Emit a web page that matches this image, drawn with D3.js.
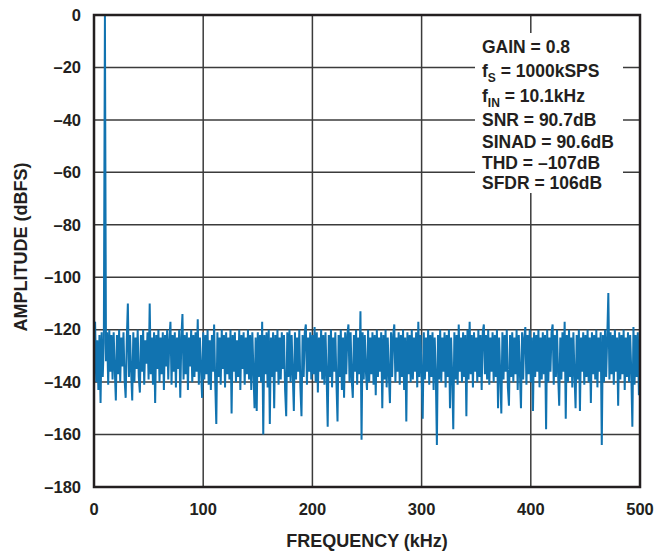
<!DOCTYPE html>
<html>

<head>
    <meta charset='utf-8' />
    <title>FFT plot</title>
    <script src="https://d3js.org/d3.v7.min.js"></script>
    <style>
        body { margin: 0; background: #fff; }
        text { font-family: "Liberation Sans", Arial, sans-serif; font-weight: bold; fill: #231f20; }
    </style>
</head>

<body>
    <div id="chart"></div>

    <script>
        // frequency axis (kHz) and amplitude axis (dBFS) ticks
        var freqTicks = [0, 100, 200, 300, 400, 500];
        var ampTicks = [0, -20, -40, -60, -80, -100, -120, -140, -160, -180];

        // spectrum, one bin per kHz from 0 to 500 kHz (fundamental near 10 kHz)
        var binStepKHz = 1;
        var amplitudeDb = [
            -118, -117, -140, -124, -143, -122, -148, -121, -138, -125, 0, -132, -121, -141, -120, -136, -122, -139, -121, -135,
            -147, -122, -137, -120, -140, -123, -134, -121, -139, -146, -124, -110, -138, -122, -136, -147, -121, -140, -123, -135,
            -120, -138, -144, -122, -136, -120, -141, -124, -133, -121, -139, -110, -137, -123, -141, -121, -148, -122, -135, -120,
            -140, -123, -137, -121, -143, -122, -134, -120, -139, -124, -117, -141, -122, -136, -121, -142, -123, -135, -120, -146,
            -123, -114, -139, -122, -137, -121, -143, -123, -134, -120, -140, -122, -138, -121, -136, -116, -141, -123, -135, -146,
            -121, -139, -122, -137, -120, -141, -124, -143, -122, -136, -118, -140, -156, -121, -138, -123, -141, -120, -135, -122,
            -142, -121, -137, -123, -139, -120, -152, -122, -136, -121, -140, -124, -138, -120, -143, -122, -135, -121, -141, -123,
            -137, -120, -139, -122, -143, -121, -136, -150, -123, -151, -121, -138, -122, -140, -117, -160, -122, -137, -121, -142,
            -120, -156, -123, -138, -121, -150, -122, -136, -120, -141, -123, -139, -121, -135, -122, -143, -153, -121, -138, -120,
            -140, -122, -137, -151, -121, -139, -123, -136, -120, -142, -153, -122, -138, -121, -118, -141, -123, -136, -121, -139,
            -122, -137, -119, -140, -121, -144, -123, -136, -120, -139, -122, -141, -121, -137, -157, -122, -138, -120, -142, -123,
            -136, -121, -140, -155, -122, -138, -120, -143, -123, -146, -121, -137, -122, -118, -140, -121, -139, -146, -122, -136,
            -120, -141, -123, -137, -113, -162, -121, -139, -122, -136, -143, -120, -140, -123, -137, -121, -141, -122, -145, -120,
            -138, -123, -136, -121, -150, -122, -139, -120, -142, -123, -137, -148, -121, -138, -122, -118, -140, -123, -136, -121,
            -141, -122, -138, -120, -143, -123, -155, -121, -137, -122, -140, -120, -139, -123, -136, -121, -142, -117, -138, -122,
            -137, -154, -121, -139, -123, -136, -120, -141, -122, -138, -121, -143, -123, -137, -164, -122, -139, -120, -140, -123,
            -136, -121, -142, -122, -138, -120, -150, -123, -137, -158, -121, -139, -122, -141, -118, -136, -123, -140, -121, -138,
            -122, -153, -120, -139, -117, -137, -122, -142, -121, -136, -123, -140, -120, -138, -122, -143, -121, -118, -137, -122,
            -139, -120, -141, -123, -136, -121, -140, -122, -138, -120, -150, -123, -137, -152, -121, -139, -122, -136, -120, -142,
            -149, -122, -138, -121, -140, -123, -137, -120, -143, -122, -136, -150, -121, -139, -123, -119, -141, -122, -137, -120,
            -140, -123, -151, -121, -138, -122, -136, -120, -142, -123, -139, -121, -137, -122, -158, -120, -140, -123, -136, -121,
            -118, -141, -122, -138, -120, -137, -149, -123, -139, -121, -136, -117, -154, -122, -140, -120, -138, -123, -142, -121,
            -137, -150, -122, -139, -120, -151, -123, -136, -121, -141, -122, -138, -120, -140, -123, -148, -121, -137, -122, -139,
            -120, -142, -123, -136, -121, -164, -122, -140, -120, -138, -123, -106, -139, -121, -137, -122, -141, -120, -136, -123,
            -149, -121, -139, -122, -137, -120, -143, -123, -138, -121, -140, -122, -136, -157, -119, -141, -122, -138, -121, -145,
            -123
        ];

        // test conditions shown in the box
        var notes = [
            { main: "GAIN = 0.8" },
            { main: "f", sub: "S", rest: " = 1000kSPS" },
            { main: "f", sub: "IN", rest: " = 10.1kHz" },
            { main: "SNR = 90.7dB" },
            { main: "SINAD = 90.6dB" },
            { main: "THD = \u2013107dB" },
            { main: "SFDR = 106dB" }
        ];

        var W = 666, H = 553;
        var margin = { top: 15, right: 26, bottom: 66, left: 94 },
            width = W - margin.left - margin.right,
            height = H - margin.top - margin.bottom;

        var svg = d3.select("#chart").append("svg")
            .attr("width", W)
            .attr("height", H);

        var g = svg.append("g")
            .attr("transform", "translate(" + margin.left + "," + margin.top + ")");

        var x = d3.scaleLinear().domain([0, 500]).range([0, width]);
        var y = d3.scaleLinear().domain([-180, 0]).range([height, 0]);

        var fmt = function (d) { return d < 0 ? "\u2013" + (-d) : String(d); };

        // grid
        g.append("g")
            .selectAll("line.vx")
            .data(freqTicks)
            .enter().append("line")
            .attr("x1", function (d) { return x(d); })
            .attr("x2", function (d) { return x(d); })
            .attr("y1", 0).attr("y2", height)
            .style("stroke", "#3b3b3b").style("stroke-width", 1.5);

        g.append("g")
            .selectAll("line.hy")
            .data(ampTicks)
            .enter().append("line")
            .attr("x1", 0).attr("x2", width)
            .attr("y1", function (d) { return y(d); })
            .attr("y2", function (d) { return y(d); })
            .style("stroke", "#3b3b3b").style("stroke-width", 1.5);

        // white box for the notes
        g.append("rect")
            .attr("x", 475 - margin.left)
            .attr("y", 33 - margin.top)
            .attr("width", 148)
            .attr("height", 160)
            .style("fill", "#fff");

        // spectrum line
        var line = d3.line()
            .x(function (d, i) { return x(i * binStepKHz); })
            .y(function (d) { return y(d); });

        g.append("path")
            .datum(amplitudeDb)
            .attr("d", line)
            .style("fill", "none")
            .style("stroke", "#1173b0")
            .style("stroke-width", 2)
            .style("stroke-linejoin", "miter");

        // frame
        g.append("rect")
            .attr("width", width).attr("height", height)
            .style("fill", "none")
            .style("stroke", "#231f20")
            .style("stroke-width", 2.5);

        // tick labels
        g.append("g")
            .selectAll("text")
            .data(ampTicks)
            .enter().append("text")
            .attr("x", -13)
            .attr("y", function (d) { return y(d); })
            .attr("dy", "0.35em")
            .attr("text-anchor", "end")
            .style("font-size", "16.5px")
            .text(fmt);

        g.append("g")
            .selectAll("text")
            .data(freqTicks)
            .enter().append("text")
            .attr("x", function (d) { return x(d); })
            .attr("y", height + 28)
            .attr("text-anchor", "middle")
            .style("font-size", "16.5px")
            .text(fmt);

        // axis titles
        svg.append("text")
            .attr("x", margin.left + width / 2)
            .attr("y", 547)
            .attr("text-anchor", "middle")
            .style("font-size", "18px")
            .text("FREQUENCY (kHz)");

        svg.append("text")
            .attr("transform", "translate(27," + (margin.top + height / 2 - 4) + ") rotate(-90)")
            .attr("text-anchor", "middle")
            .style("font-size", "18px")
            .text("AMPLITUDE (dBFS)");

        // notes
        var lineY = [53, 77, 102, 126, 148, 169, 189];
        notes.forEach(function (n, i) {
            var t = svg.append("text")
                .attr("x", 482)
                .attr("y", lineY[i])
                .style("font-size", "17.5px");
            t.append("tspan").text(n.main);
            if (n.sub) {
                t.append("tspan").attr("dy", 5).style("font-size", "12px").text(n.sub);
                t.append("tspan").attr("dy", -5).text(n.rest);
            }
        });
    </script>
</body>

</html>
